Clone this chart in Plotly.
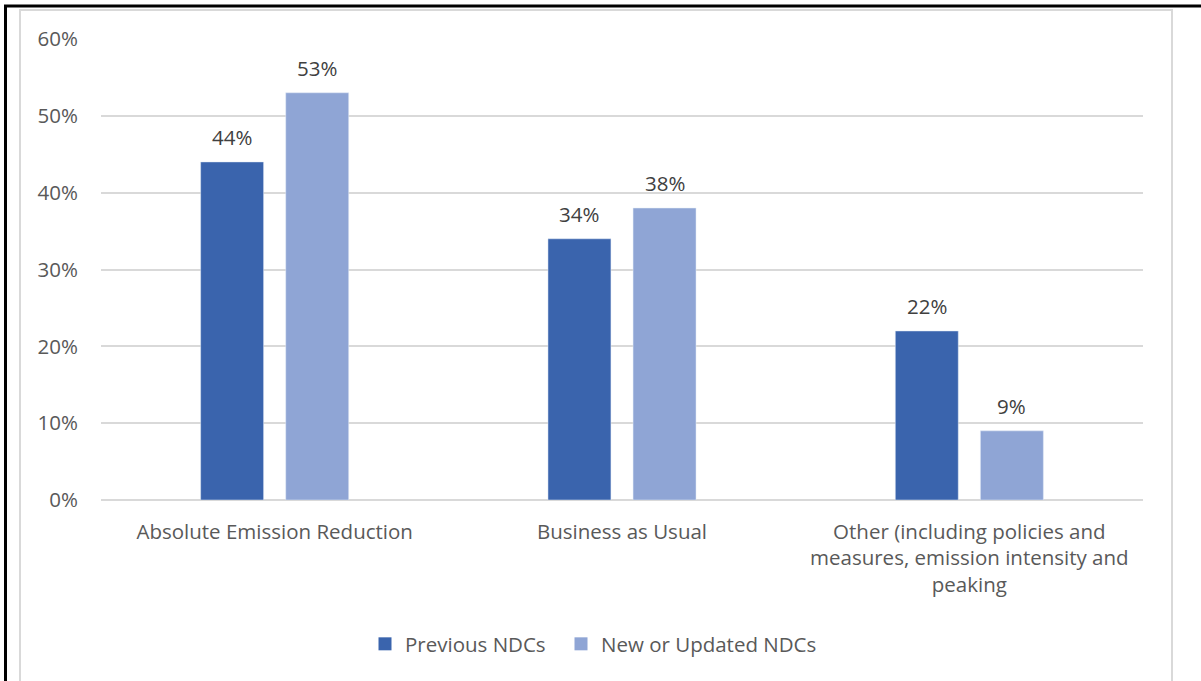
import plotly.graph_objects as go

categories = ["Absolute Emission Reduction", "Business as Usual",
              "Other (including policies and<br>measures, emission intensity and<br>peaking"]
previous = [44, 34, 22]
new_updated = [53, 38, 9]
y_ticks = [0, 10, 20, 30, 40, 50, 60]
y_tick_labels = [f"{v}%" for v in y_ticks]

FONT = "Open Sans, sans-serif"
FS = 20.5
W, H = 1201, 681
L, R, T, B = 101, 58, 39, 181
pw, ph = W - L - R, H - T - B
BARGAP, GROUPGAP = 0.51, 0.26

def px(x):
    return (x - L) / pw

def py(y):
    return (H - B - y) / ph

fig = go.Figure()
series = [("Previous NDCs", previous, "#3A64AD"), ("New or Updated NDCs", new_updated, "#8FA5D5")]
for name, vals, col in series:
    fig.add_trace(go.Bar(x=categories, y=vals, name=name, marker_color=col,
                         showlegend=False, offsetgroup=name))
for k, (name, vals, col) in enumerate(series):
    fig.add_trace(go.Scatter(x=[None], y=[None], mode="markers", name=name,
                             legend="legend" if k == 0 else "legend2",
                             marker=dict(symbol="square", size=13, color=col)))

# data labels as annotations positioned from data values
slot = (1 - BARGAP) / 2
annotations = []
for i, (name, vals, col) in enumerate(series):
    off = (i - 0.5) * slot
    for j, v in enumerate(vals):
        annotations.append(dict(x=j + off, y=v, xref="x", yref="y", text=f"{v}%",
                                showarrow=False, yanchor="bottom", yshift=9,
                                font=dict(size=FS, color="#404040", family=FONT)))

shapes = [
    dict(type="line", xref="paper", yref="paper", x0=px(4), x1=px(1205), y0=py(6), y1=py(6),
         line=dict(color="black", width=3)),
    dict(type="line", xref="paper", yref="paper", x0=px(5.5), x1=px(5.5), y0=py(5), y1=py(690),
         line=dict(color="black", width=3)),
    dict(type="line", xref="paper", yref="paper", x0=px(19), x1=px(1173), y0=py(10), y1=py(10),
         line=dict(color="#d9d9d9", width=2)),
    dict(type="line", xref="paper", yref="paper", x0=px(20), x1=px(20), y0=py(10), y1=py(690),
         line=dict(color="#d9d9d9", width=2)),
    dict(type="line", xref="paper", yref="paper", x0=px(1172), x1=px(1172), y0=py(10), y1=py(690),
         line=dict(color="#d9d9d9", width=2)),
]

legend_common = dict(orientation="h", xanchor="left", y=py(644), yanchor="middle",
                     font=dict(size=FS, color="#595959", family=FONT),
                     itemwidth=30, bgcolor="rgba(0,0,0,0)")

fig.update_layout(
    width=W, height=H,
    margin=dict(l=L, r=R, t=T, b=B, pad=0),
    paper_bgcolor="white", plot_bgcolor="white",
    barmode="group", bargap=BARGAP, bargroupgap=GROUPGAP,
    font=dict(family=FONT, size=FS, color="#595959"),
    showlegend=True,
    legend=dict(x=px(365), **legend_common),
    legend2=dict(x=px(561), **legend_common),
    shapes=shapes,
    annotations=annotations,
    yaxis=dict(range=[0, 60], tickvals=y_ticks, ticktext=y_tick_labels,
               showgrid=True, gridcolor="#d9d9d9", gridwidth=1.5,
               zeroline=True, zerolinecolor="#d9d9d9", zerolinewidth=1.5,
               showline=False, ticks="", ticklabelstandoff=22,
               tickfont=dict(size=FS, color="#595959", family=FONT)),
    xaxis=dict(showline=False, ticks="", showgrid=False, ticklabelstandoff=17,
               range=[-0.5, 2.5],
               tickfont=dict(size=FS, color="#595959", family=FONT)),
)

fig.write_html("out.html", config={"displayModeBar": False},
               post_script="document.body.style.margin='0';document.body.style.overflow='hidden';")
